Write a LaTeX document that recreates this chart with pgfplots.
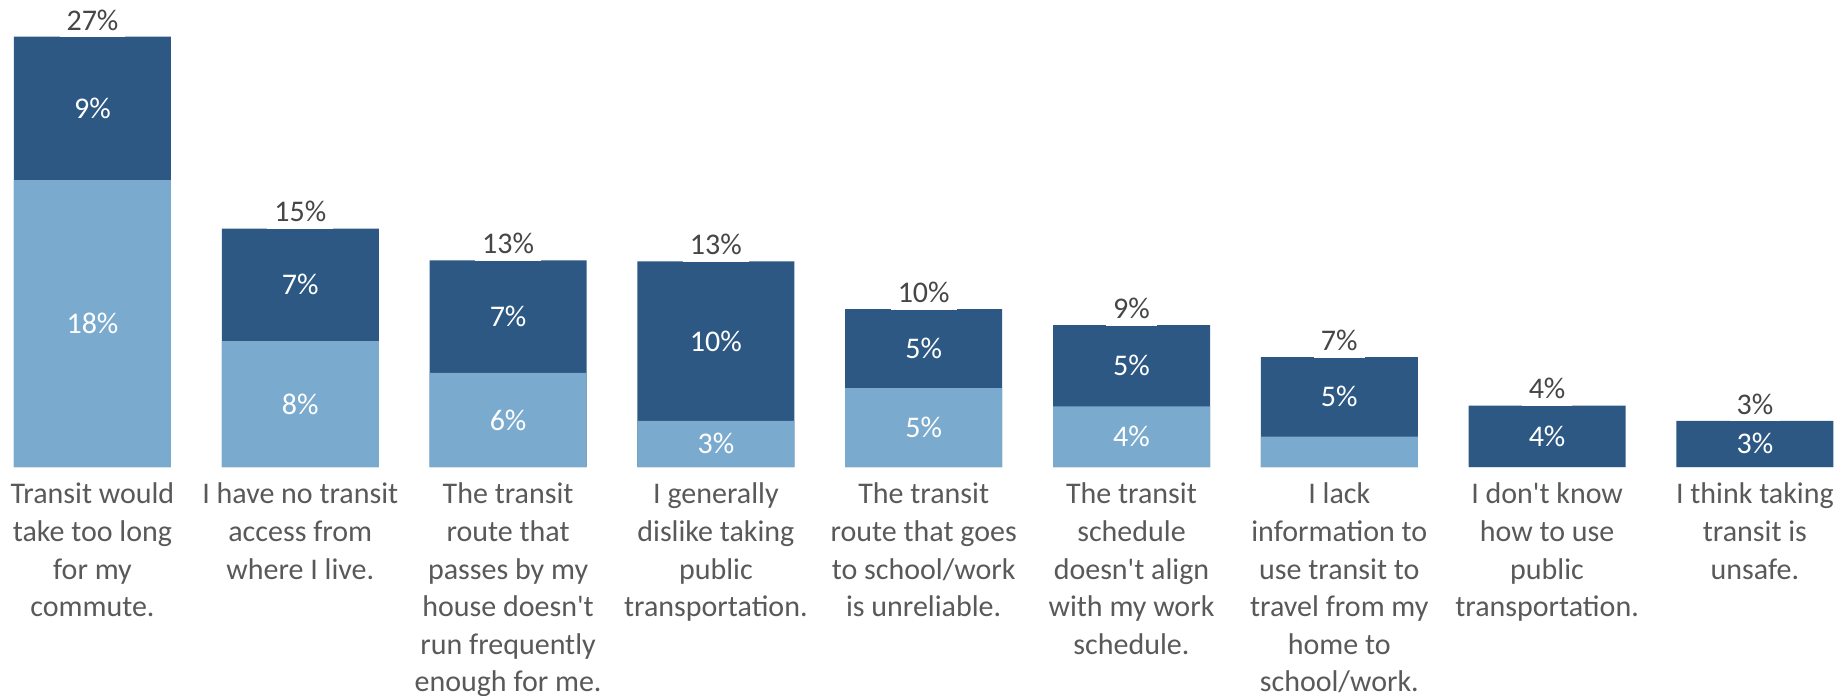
\documentclass[border=0pt]{standalone}
\usepackage{pgfplots}
\pgfplotsset{compat=1.18}
\usepackage{fontspec}
\setmainfont{Carlito}
\definecolor{darkb}{RGB}{44,88,131}
\definecolor{lightb}{RGB}{122,170,206}
\definecolor{lbl}{RGB}{89,89,89}
\definecolor{tot}{RGB}{70,70,70}
\newcommand{\q}{\textquotesingle}
\begin{document}
\begin{tikzpicture}
\begin{axis}[
 scale only axis, width=924pt, height=233.5pt,
 xmin=-0.445, xmax=8.448, ymin=0, ymax=29.3,
 axis line style={draw=none}, tick style={draw=none},
 ytick=\empty, xtick={0,...,8},
 xticklabels={
  {Transit would\\take too long\\for my\\commute.},
  {I have no transit\\access from\\where I live.},
  {The transit\\route that\\passes by my\\house doesn\q t\\run frequently\\enough for me.},
  {I generally\\dislike taking\\public\\transportation.},
  {The transit\\route that goes\\to school/work\\is unreliable.},
  {The transit\\schedule\\doesn\q t align\\with my work\\schedule.},
  {I lack\\information to\\use transit to\\travel from my\\home to\\school/work.},
  {I don\q t know\\how to use\\public\\transportation.},
  {I think taking\\transit is\\unsafe.}},
 xticklabel style={align=center, font=\fontsize{15}{18.8}\selectfont, text=lbl, anchor=north, inner sep=0pt, yshift=-7.8pt},
 clip=false,
]
\addplot[ybar, bar width=78.5pt, bar shift=0pt, fill=darkb, draw=none]
 coordinates {(0,27) (1,14.96) (2,12.96) (3,12.9) (4,9.9) (5,8.9) (6,6.9) (7,3.85) (8,2.9)};
\addplot[ybar, bar width=78.5pt, bar shift=0pt, fill=lightb, draw=none]
 coordinates {(0,18) (1,7.9) (2,5.9) (3,2.9) (4,4.95) (5,3.8) (6,1.9) (7,0) (8,0)};
% segment labels
\addplot[draw=none, mark=none, nodes near coords, point meta=explicit symbolic,
 every node near coord/.append style={anchor=center, text=white, font=\fontsize{15}{18}\selectfont}]
 table[meta=label] {
x y label
0 9 18\%
1 3.95 8\%
2 2.95 6\%
3 1.45 3\%
4 2.48 5\%
5 1.9 4\%
0 22.5 9\%
1 11.43 7\%
2 9.43 7\%
3 7.9 10\%
4 7.43 5\%
5 6.35 5\%
6 4.4 5\%
7 1.93 4\%
8 1.45 3\%
};
% totals
\addplot[draw=none, mark=none, nodes near coords, point meta=explicit symbolic,
 every node near coord/.append style={anchor=south, text=tot, fill=white, inner sep=3.5pt, yshift=-0.5pt, font=\fontsize{15}{18}\selectfont}]
 table[meta=label] {
x y label
0 27 27\%
1 14.96 15\%
2 12.96 13\%
3 12.9 13\%
4 9.9 10\%
5 8.9 9\%
6 6.9 7\%
7 3.85 4\%
8 2.9 3\%
};
\end{axis}
\pgfresetboundingbox
\path (0,-114.5pt) rectangle (924pt,233.5pt);
\end{tikzpicture}
\end{document}
